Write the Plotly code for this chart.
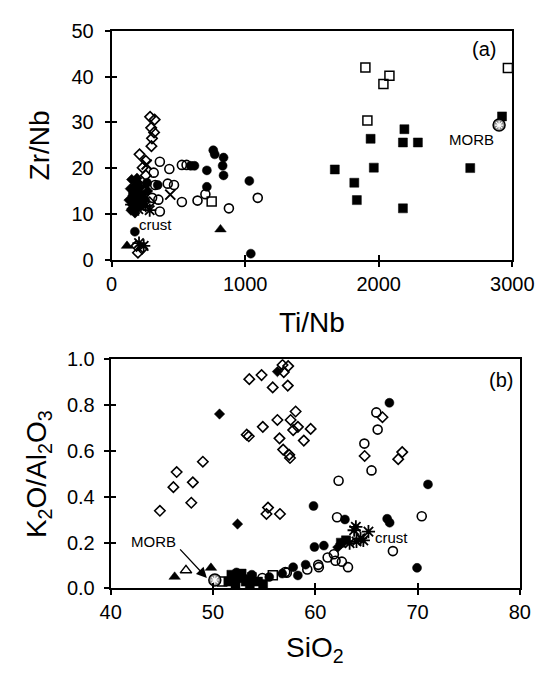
import plotly.graph_objects as go

# ---------------- Panel (a): Zr/Nb vs Ti/Nb ----------------
a_open_diamond_x = [288, 322, 296, 318, 302, 298, 209, 256, 232, 256, 209, 244, 285, 197, 186, 228]
a_open_diamond_y = [31.2, 30.6, 28.8, 27.8, 26.5, 24.8, 23.0, 21.6, 20.1, 18.4, 16.3, 14.9, 12.5, 1.5, 3.0, 2.4]
a_filled_diamond_x = [150, 170, 185, 160, 205, 180, 200, 230, 165, 250, 140, 215, 130, 190, 155, 270, 175, 145]
a_filled_diamond_y = [17.5, 16.0, 15.0, 14.0, 13.5, 12.5, 11.5, 12.2, 11.2, 13.0, 15.5, 15.8, 13.0, 17.8, 12.0, 15.0, 10.2, 10.8]
a_open_circle_x = [361, 432, 526, 561, 315, 326, 420, 467, 303, 350, 526, 643, 702, 878, 1094, 361]
a_open_circle_y = [21.4, 19.8, 20.7, 20.7, 19.0, 16.3, 16.6, 16.3, 13.5, 13.1, 12.6, 12.9, 14.3, 11.2, 13.5, 10.5]
a_filled_circle_x = [761, 772, 838, 831, 838, 713, 620, 592, 713, 1031, 1042, 345, 174, 160, 195, 230, 265]
a_filled_circle_y = [23.9, 23.0, 22.3, 20.5, 18.4, 19.5, 20.5, 20.5, 15.9, 17.2, 1.3, 16.3, 6.1, 14.5, 16.5, 14.2, 16.8]
a_open_square_x = [749, 1915, 1900, 2035, 2080, 2967]
a_open_square_y = [12.7, 30.4, 42.0, 38.4, 40.2, 41.9]
a_filled_square_x = [1671, 1817, 1836, 1939, 1963, 2192, 2181, 2293, 2181, 2685, 2923]
a_filled_square_y = [19.7, 16.8, 13.0, 26.4, 20.1, 28.5, 25.6, 25.6, 11.2, 20.0, 31.3]
a_filled_triangle_x = [815, 115]
a_filled_triangle_y = [6.6, 3.0]
a_asterisk_x = [200, 255, 230, 285, 240, 205, 150]
a_asterisk_y = [11.0, 11.8, 12.8, 10.8, 3.0, 3.6, 12.0]
a_cross_x = [439, 195, 262]
a_cross_y = [14.2, 12.0, 20.8]
a_morb_x = [2901]
a_morb_y = [29.4]
a_xticks = [0, 1000, 2000, 3000]
a_yticks = [0, 10, 20, 30, 40, 50]

# ---------------- Panel (b): K2O/Al2O3 vs SiO2 ----------------
b_open_diamond_x = [53.55, 54.75, 55.84, 56.8, 57.35, 56.92, 57.31,
                    53.3, 53.5, 54.87, 56.3, 57.59, 58.08, 58.3, 57.84, 59.55, 56.5, 58.88, 56.86, 57.45, 57.53,
                    49.01, 46.45, 46.13, 48.03, 47.88, 44.81,
                    66.57, 64.83, 68.11, 68.5, 55.38, 55.23, 56.55]
b_open_diamond_y = [0.913, 0.931, 0.877, 0.975, 0.970, 0.944, 0.885,
                    0.671, 0.664, 0.705, 0.735, 0.735, 0.772, 0.705, 0.691, 0.696, 0.655, 0.645, 0.606, 0.583, 0.569,
                    0.553, 0.508, 0.442, 0.463, 0.374, 0.339,
                    0.747, 0.578, 0.564, 0.595, 0.353, 0.325, 0.325]
b_filled_diamond_x = [50.64, 56.3, 52.4, 62.5, 62.2, 53.0, 52.0]
b_filled_diamond_y = [0.761, 0.946, 0.281, 0.195, 0.180, 0.050, 0.040]
b_open_circle_x = [65.97, 66.1, 64.8, 65.5, 62.28, 70.41, 67.59, 62.13, 54.83, 57.07, 59.22, 60.29,
                   61.21, 61.82, 61.98, 62.6, 63.2, 57.22, 60.35]
b_open_circle_y = [0.768, 0.693, 0.632, 0.515, 0.470, 0.315, 0.163, 0.311, 0.046, 0.072, 0.083, 0.103,
                   0.135, 0.149, 0.121, 0.117, 0.093, 0.069, 0.093]
b_filled_circle_x = [67.25, 71.02, 59.83, 62.9, 67.03, 67.27, 69.95, 59.92, 60.84, 57.84, 58.3, 59.06,
                     56.77, 55.5, 53.8, 52.3]
b_filled_circle_y = [0.810, 0.454, 0.360, 0.301, 0.304, 0.287, 0.090, 0.181, 0.187, 0.093, 0.057, 0.104,
                     0.065, 0.050, 0.060, 0.070]
b_open_square_x = [50.9, 55.85]
b_open_square_y = [0.030, 0.058]
b_filled_square_x = [51.8, 52.5, 53.2, 53.8, 54.4, 52.2, 53.6, 51.5, 54.9, 52.8, 62.5, 63.0]
b_filled_square_y = [0.060, 0.045, 0.030, 0.050, 0.030, 0.020, 0.015, 0.030, 0.020, 0.065, 0.200, 0.210]
b_filled_triangle_x = [46.25, 49.8]
b_filled_triangle_y = [0.051, 0.090]
b_open_triangle_x = [47.36]
b_open_triangle_y = [0.079]
b_asterisk_x = [63.97, 65.2, 64.43, 64.03, 63.36, 64.7, 63.8]
b_asterisk_y = [0.269, 0.248, 0.219, 0.205, 0.198, 0.210, 0.254]
b_morb_x = [50.18]
b_morb_y = [0.037]
b_xticks = [40, 50, 60, 70, 80]
b_yticks = [0.0, 0.2, 0.4, 0.6, 0.8, 1.0]

W, H = 555, 673
FONT = "Liberation Sans, Arial, Helvetica, sans-serif"


def px(v):
    return v / W


def py(v):
    return 1 - v / H


fig = go.Figure()

STY = {
    "open_diamond": dict(symbol="diamond-open", size=8, color="black", line=dict(color="black", width=1.6)),
    "filled_diamond": dict(symbol="diamond", size=8, color="black", line=dict(color="black", width=0.5)),
    "open_circle": dict(symbol="circle-open", size=9, color="black", line=dict(color="black", width=1.6)),
    "filled_circle": dict(symbol="circle", size=9, color="black", line=dict(color="black", width=0.5)),
    "open_square": dict(symbol="square-open", size=9, color="black", line=dict(color="black", width=1.5)),
    "filled_square": dict(symbol="square", size=9, color="black", line=dict(color="black", width=0.5)),
    "filled_triangle": dict(symbol="triangle-up", size=10, color="black", line=dict(color="black", width=0.5)),
    "open_triangle": dict(symbol="triangle-up-open", size=10, color="black", line=dict(color="black", width=1.5)),
    "asterisk": dict(symbol="asterisk-open", size=11, color="black", line=dict(color="black", width=1.8)),
    "cross": dict(symbol="x-thin-open", size=10, color="black", line=dict(color="black", width=2)),
}


def add(xs, ys, style, xa, ya):
    fig.add_trace(go.Scatter(x=xs, y=ys, mode="markers", marker=STY[style],
                             xaxis=xa, yaxis=ya, showlegend=False, hoverinfo="skip"))


def add_morb(xs, ys, xa, ya):
    fig.add_trace(go.Scatter(x=xs, y=ys, mode="markers",
                             marker=dict(symbol="circle", size=12, color="#8a8a8a",
                                         line=dict(color="black", width=1.5)),
                             xaxis=xa, yaxis=ya, showlegend=False, hoverinfo="skip"))
    fig.add_trace(go.Scatter(x=xs, y=ys, mode="markers",
                             marker=dict(symbol="asterisk-open", size=7, color="white",
                                         line=dict(color="white", width=1.2)),
                             xaxis=xa, yaxis=ya, showlegend=False, hoverinfo="skip"))


# panel a
add(a_open_diamond_x, a_open_diamond_y, "open_diamond", "x", "y")
add(a_open_circle_x, a_open_circle_y, "open_circle", "x", "y")
add(a_open_square_x, a_open_square_y, "open_square", "x", "y")
add(a_filled_square_x, a_filled_square_y, "filled_square", "x", "y")
add(a_filled_circle_x, a_filled_circle_y, "filled_circle", "x", "y")
add(a_filled_diamond_x, a_filled_diamond_y, "filled_diamond", "x", "y")
add(a_filled_triangle_x, a_filled_triangle_y, "filled_triangle", "x", "y")
add(a_asterisk_x, a_asterisk_y, "asterisk", "x", "y")
add(a_cross_x, a_cross_y, "cross", "x", "y")
add_morb(a_morb_x, a_morb_y, "x", "y")

# panel b
add(b_open_diamond_x, b_open_diamond_y, "open_diamond", "x2", "y2")
add(b_open_circle_x, b_open_circle_y, "open_circle", "x2", "y2")
add(b_open_square_x, b_open_square_y, "open_square", "x2", "y2")
add(b_filled_square_x, b_filled_square_y, "filled_square", "x2", "y2")
add(b_filled_circle_x, b_filled_circle_y, "filled_circle", "x2", "y2")
add(b_filled_diamond_x, b_filled_diamond_y, "filled_diamond", "x2", "y2")
add(b_filled_triangle_x, b_filled_triangle_y, "filled_triangle", "x2", "y2")
add(b_open_triangle_x, b_open_triangle_y, "open_triangle", "x2", "y2")
add(b_asterisk_x, b_asterisk_y, "asterisk", "x2", "y2")
add_morb(b_morb_x, b_morb_y, "x2", "y2")

# dummy traces for overlay (inside-tick) axes
fig.add_trace(go.Scatter(x=[None], y=[None], xaxis="x3", yaxis="y3", showlegend=False))
fig.add_trace(go.Scatter(x=[None], y=[None], xaxis="x4", yaxis="y4", showlegend=False))

A_XR = [0, 3000]
A_YR = [0, 50]
B_XR = [40, 80]
B_YR = [0, 1.0]

A_XD = [px(107), px(533)]
A_YD = [py(257), py(20.5)]
B_XD = [px(106), px(541)]
B_YD = [py(597), py(360)]

tickfont = dict(family=FONT, size=20, color="black")
common = dict(showgrid=False, zeroline=False, showline=True, linecolor="black", linewidth=2,
              ticks="outside", ticklen=5, tickwidth=2, tickcolor="black", tickfont=tickfont)
inner = dict(showgrid=False, zeroline=False, showline=False, ticks="inside", ticklen=5,
             tickwidth=2, tickcolor="black", showticklabels=False)

fig.update_layout(
    width=W, height=H, margin=dict(l=0, r=0, t=0, b=0),
    paper_bgcolor="white", plot_bgcolor="white",
    xaxis=dict(domain=A_XD, range=A_XR, tickvals=a_xticks, anchor="y", mirror=True, **common),
    yaxis=dict(domain=A_YD, range=A_YR, tickvals=a_yticks, anchor="x", mirror=True,
               ticklabelstandoff=7, **common),
    xaxis2=dict(domain=B_XD, range=B_XR, tickvals=b_xticks, anchor="y2", mirror=True, **common),
    yaxis2=dict(domain=B_YD, range=B_YR, tickvals=b_yticks, anchor="x2", mirror=True,
                tickformat=".1f", ticklabelstandoff=5, **common),
    xaxis3=dict(overlaying="x", range=A_XR, tickvals=a_xticks, anchor="y", **inner),
    yaxis3=dict(overlaying="y", range=A_YR, tickvals=a_yticks, anchor="x", **inner),
    xaxis4=dict(overlaying="x2", range=B_XR, tickvals=b_xticks, anchor="y2", **inner),
    yaxis4=dict(overlaying="y2", range=B_YR, tickvals=b_yticks, anchor="x2", **inner),
)

ann = []
titlefont = dict(family=FONT, size=28, color="black")
smallfont = dict(family=FONT, size=15, color="black")
# axis titles
ann.append(dict(text="Ti/Nb", x=(A_XD[0] + A_XD[1]) / 2, y=py(322), xref="paper", yref="paper",
                showarrow=False, font=titlefont, xanchor="center", yanchor="middle"))
ann.append(dict(text="Zr/Nb", x=px(30), y=(A_YD[0] + A_YD[1]) / 2, xref="paper", yref="paper",
                showarrow=False, font=titlefont, textangle=-90, xanchor="center", yanchor="middle"))
ann.append(dict(text="SiO<sub>2</sub>", x=(B_XD[0] + B_XD[1]) / 2, y=py(660), xref="paper", yref="paper",
                showarrow=False, font=titlefont, xanchor="center", yanchor="middle"))
ann.append(dict(text="K<sub>2</sub>O/Al<sub>2</sub>O<sub>3</sub>", x=px(30), y=(B_YD[0] + B_YD[1]) / 2,
                xref="paper", yref="paper", showarrow=False, font=titlefont, textangle=-90,
                xanchor="center", yanchor="middle"))
# panel labels
ann.append(dict(text="(a)", x=2787, y=46, xref="x", yref="y", showarrow=False,
                font=dict(family=FONT, size=20, color="black")))
ann.append(dict(text="(b)", x=78.2, y=0.91, xref="x2", yref="y2", showarrow=False,
                font=dict(family=FONT, size=20, color="black")))
# text labels
ann.append(dict(text="crust", x=331, y=7.6, xref="x", yref="y", showarrow=False, font=smallfont))
ann.append(dict(text="MORB", x=2697, y=26.3, xref="x", yref="y", showarrow=False, font=smallfont))
ann.append(dict(text="crust", x=67.5, y=0.224, xref="x2", yref="y2", showarrow=False, font=smallfont))
ann.append(dict(text="MORB", x=44.23, y=0.203, xref="x2", yref="y2", showarrow=False, font=smallfont))
ann.append(dict(text="", x=49.4, y=0.046, ax=46.65, ay=0.177, xref="x2", yref="y2",
                axref="x2", ayref="y2", showarrow=True, arrowhead=2, arrowsize=1.6,
                arrowwidth=1.3, arrowcolor="black"))
fig.update_layout(annotations=ann)

fig.write_html("out.html")
